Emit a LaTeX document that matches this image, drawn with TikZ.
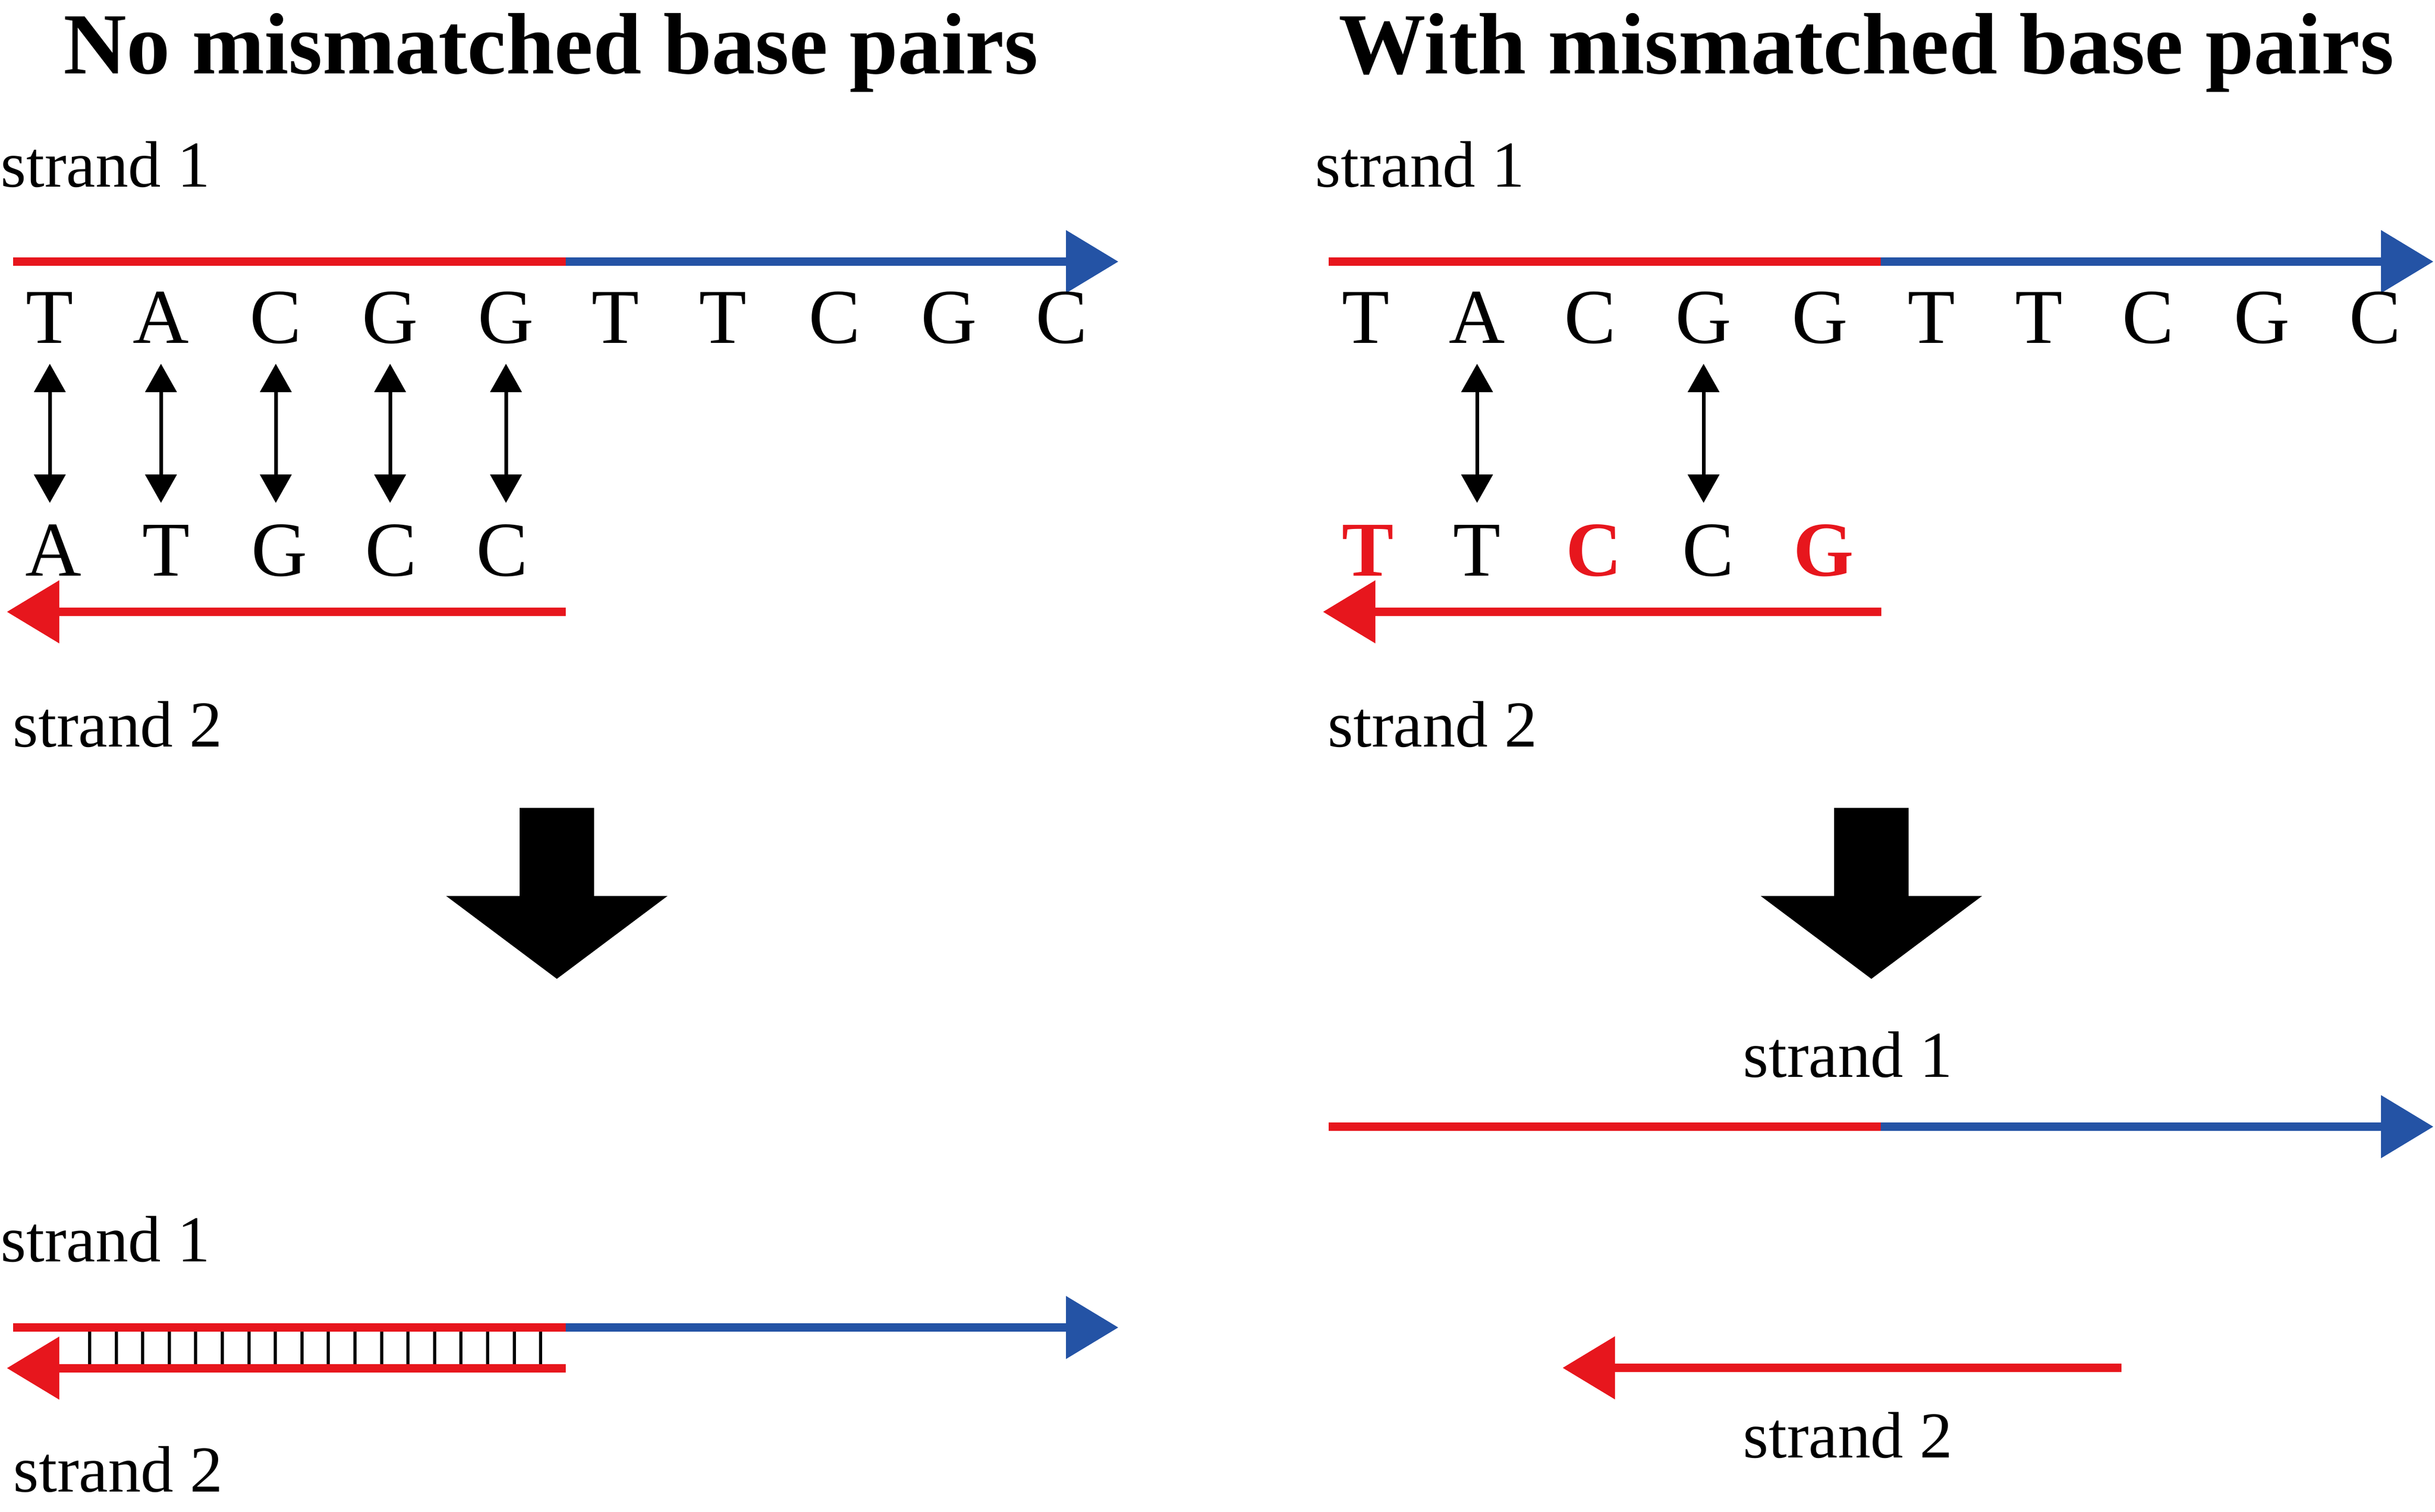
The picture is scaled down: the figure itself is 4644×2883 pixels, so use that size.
\documentclass[tikz,border=0pt]{standalone}
\usepackage{fontspec}
\setmainfont{Liberation Serif}
\usetikzlibrary{arrows.meta}
\definecolor{sred}{RGB}{231,22,29}
\definecolor{sblue}{RGB}{36,83,165}
\begin{document}
\begin{tikzpicture}[x=0.25pt,y=-0.25pt,
  title/.style={font=\fontsize{41.5pt}{46pt}\selectfont\bfseries, inner sep=0pt, anchor=base},
  lbl/.style={font=\fontsize{31.25pt}{36pt}\selectfont, inner sep=0pt, anchor=base west},
  basech/.style={font=\fontsize{37pt}{40pt}\selectfont, inner sep=0pt, anchor=base, text height=24.6pt, text depth=0pt},
  mism/.style={basech, font=\fontsize{37pt}{40pt}\selectfont\bfseries, text=sred},
  redline/.style={line width=4pt, draw=sred},
  blueline/.style={line width=4pt, draw=sblue},
  redtip/.style={-{Triangle[length=25pt,width=29pt,fill=sred]}},
  bluetip/.style={-{Triangle[length=25pt,width=29pt,fill=sblue]}},
  pairarrow/.style={line width=1.75pt, {Triangle[length=13.5pt,width=14.75pt]}-{Triangle[length=13.5pt,width=14.75pt]}, shorten <=9.75pt, shorten >=9.9pt},
  tickline/.style={line width=1.5pt},
  bigarrow/.style={fill=black}
]
\useasboundingbox (0,0) rectangle (4644,2883);

% titles
\node[title] (t1) at (1051,140) {No mismatched base pairs};
\node[title] (t2) at (3560,140) {With mismatched base pairs};

% labels
\node[lbl] (s1a) at (1,356) {strand 1};
\node[lbl] (s2a) at (24,1424) {strand 2};
\node[lbl] (s1b) at (2508,356) {strand 1};
\node[lbl] (s2b) at (2532,1424) {strand 2};
\node[lbl] (s1c) at (1,2406) {strand 1};
\node[lbl] (s2c) at (25,2845) {strand 2};
\node[lbl] (s1d) at (3324,2054) {strand 1};
\node[lbl] (s2d) at (3324,2780) {strand 2};

% top strands (upper panels)
\draw[redline] (25,499) -- (1079,499);
\draw[blueline,bluetip] (1079,499) -- (2133,499);
\draw[redline] (2534,499) -- (3587,499);
\draw[blueline,bluetip] (3587,499) -- (4641,499);

% lower strand 2 arrows (upper panels)
\draw[redline,redtip] (1079,1167) -- (13,1167);
\draw[redline,redtip] (3588,1167) -- (2523,1167);

% letters, left panel
\foreach \x/\c [count=\i] in {95/T,307/A,526/C,744/G,965/G,1174/T,1379/T,1592/C,1810/G,2025/C}
  \node[basech] (tl\i) at (\x,654) {\c};
\foreach \x/\c [count=\i] in {102/A,317/T,533/G,746/C,958/C}
  \node[basech] (bl\i) at (\x,1098) {\c};
\foreach \i in {1,...,5}
  \draw[pairarrow] (tl\i.south) -- (tl\i.south |- bl\i.north);

% letters, right panel
\foreach \x/\c [count=\i] in {2605/T,2817/A,3033/C,3249/G,3471/G,3684/T,3889/T,4097/C,4314/G,4530/C}
  \node[basech] (tr\i) at (\x,654) {\c};
\node[mism] (br1) at (2609,1098) {T};
\node[basech] (br2) at (2817,1098) {T};
\node[mism] (br3) at (3040,1098) {C};
\node[basech] (br4) at (3258,1098) {C};
\node[mism] (br5) at (3478,1098) {G};
\draw[pairarrow] (tr2.south) -- (tr2.south |- br2.north);
\draw[pairarrow] (tr4.south) -- (tr4.south |- br4.north);

% big arrows
\fill[bigarrow] (991,1541) -- (1133,1541) -- (1133,1709) -- (1273,1709) -- (1062,1867)
  -- (851,1709) -- (991,1709) -- cycle;
\fill[bigarrow] (3498,1541) -- (3640,1541) -- (3640,1709) -- (3780,1709) -- (3569,1867)
  -- (3358,1709) -- (3498,1709) -- cycle;

% lower left: paired duplex
\draw[redline] (25,2532) -- (1079,2532);
\draw[blueline,bluetip] (1079,2532) -- (2133,2532);
\draw[redline,redtip] (1079,2609.5) -- (13,2609.5);
\foreach \i in {0,...,17}
  \draw[tickline] ({171+\i*50.6},2540) -- ({171+\i*50.6},2602);

% lower right: separated strands
\draw[redline] (2534,2149) -- (3587,2149);
\draw[blueline,bluetip] (3587,2149) -- (4641,2149);
\draw[redline,redtip] (4046,2609) -- (2980,2609);
\end{tikzpicture}
\end{document}
